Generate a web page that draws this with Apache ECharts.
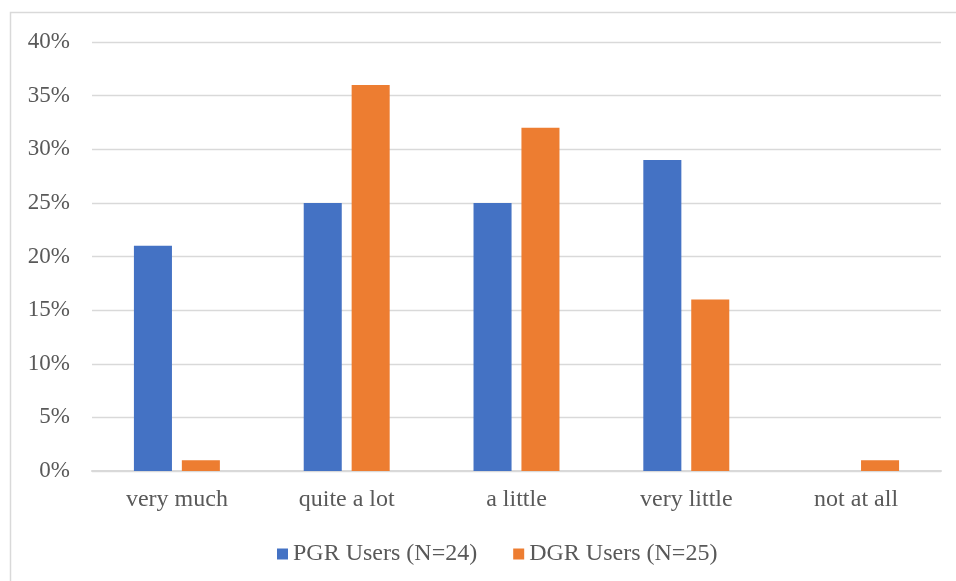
<!DOCTYPE html>
<html>
<head>
<meta charset="utf-8">
<script src="https://cdn.jsdelivr.net/npm/echarts@6/dist/echarts.min.js"></script>
<style>
  html, body { margin: 0; padding: 0; background: #fff; }
  #chart { width: 956px; height: 581px; }
</style>
</head>
<body>
<div id="chart"></div>
<script>
const categories = ['very much', 'quite a lot', 'a little', 'very little', 'not at all']
const pgrUsers = [21, 25, 25, 29, 0]
const dgrUsers = [1, 36, 32, 16, 1]
const seriesNames = ['PGR Users (N=24)', 'DGR Users (N=25)']

const chart = echarts.init(document.getElementById('chart'))
const font = '"Liberation Serif", "Times New Roman", serif'

chart.setOption({
  animation: false,
  textStyle: { fontFamily: font },
  graphic: [{
    type: 'rect',
    shape: { x: 10.5, y: 12.5, width: 1000, height: 700 },
    style: { fill: 'none', stroke: '#d9d9d9', lineWidth: 1.5 },
    silent: true
  }],
  grid: { left: 92, right: 15, top: 42, bottom: 110 },
  legend: {
    bottom: 10,
    left: 272,
    itemWidth: 11,
    itemHeight: 11,
    itemGap: 36,
    icon: 'rect',
    textStyle: { fontFamily: font, fontSize: 24, color: '#595959' },
    data: seriesNames
  },
  xAxis: {
    type: 'category',
    data: categories,
    axisLine: { lineStyle: { color: '#d9d9d9', width: 2 } },
    axisTick: { show: false },
    axisLabel: { fontFamily: font, fontSize: 24, color: '#595959', margin: 17 }
  },
  yAxis: {
    type: 'value',
    min: 0,
    max: 40,
    interval: 5,
    axisLine: { show: false },
    axisTick: { show: false },
    splitLine: { lineStyle: { color: '#d9d9d9', width: 1.3 } },
    axisLabel: { fontFamily: font, fontSize: 23, color: '#595959', margin: 22, formatter: '{value}%' }
  },
  series: [
    {
      name: seriesNames[0],
      type: 'bar',
      data: pgrUsers,
      barWidth: '22.4%',
      barGap: '26%',
      itemStyle: { color: '#4472C4' }
    },
    {
      name: seriesNames[1],
      type: 'bar',
      data: dgrUsers,
      barWidth: '22.4%',
      itemStyle: { color: '#ED7D31' }
    }
  ]
})
</script>
</body>
</html>
